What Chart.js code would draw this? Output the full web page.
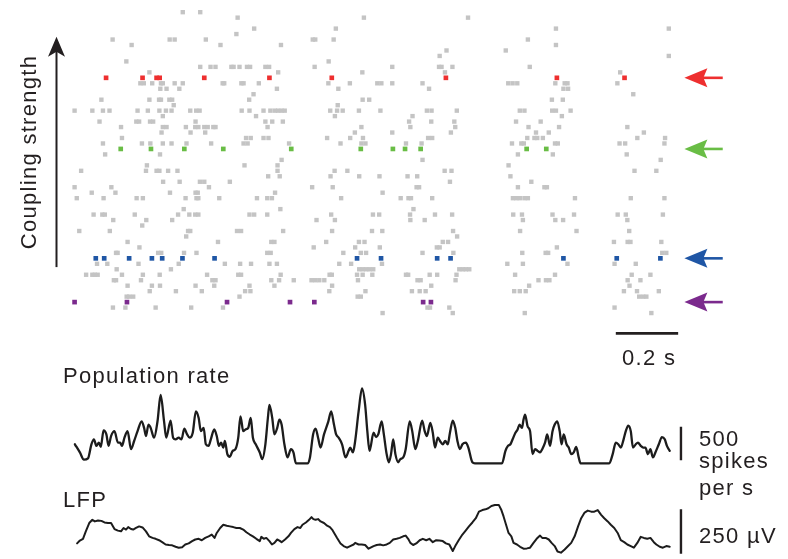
<!DOCTYPE html>
<html>
<head>
<meta charset="utf-8">
<title>Raster, population rate and LFP</title>
<script src="https://cdn.jsdelivr.net/npm/chart.js"></script>
<style>
  html, body { margin: 0; padding: 0; background: #fff; }
  #wrap { width: 788px; height: 559px; }
</style>
</head>
<body>
<div id="wrap"><canvas id="fig" width="788" height="559"></canvas></div>
<script>
// spike times in ms, one list per neuron, top row = strongest coupling
const spikeTimes = [
  [367, 423],
  [543, 948, 1282],
  [],
  [596, 858, 1564, 1926],
  [539],
  [142, 325, 341, 441, 784, 792, 851, 1474],
  [203, 488, 682, 1564],
  [1213, 1403],
  [1191, 1926],
  [186, 835],
  [423, 456, 472, 523, 530, 549, 573, 583, 632, 644, 790, 1039, 1189, 1197, 1232, 1480],
  [260, 673, 943, 1208, 1770],
  [121, 238, 283, 293, 436, 645, 845, 1211, 1567, 1784],
  [231, 242, 269, 297, 303, 341, 367, 495, 500, 555, 562, 611, 834, 903, 991, 1004, 1039, 1136, 1411, 1425, 1440, 1562, 1592, 1601, 1761],
  [295, 315, 356, 669, 866, 1157, 1588, 1603],
  [594, 1812],
  [106, 260, 291, 297, 324, 333, 580, 944, 965, 1551, 1586],
  [338, 864],
  [20, 77, 111, 132, 222, 255, 292, 313, 331, 391, 410, 421, 556, 581, 626, 648, 662, 673, 684, 694, 840, 862, 880, 932, 1001, 1150, 1165, 1246, 1448, 1463, 1552, 1564, 1611],
  [303, 602, 855, 1104, 1583],
  [100, 218, 227, 262, 272, 408, 632, 654, 688, 1093, 1164, 1238, 1436, 1515],
  [169, 303, 315, 377, 407, 417, 436, 447, 465, 472, 639, 940, 1097, 1241, 1476, 1574, 1793],
  [299, 392, 439, 919, 1039, 1227, 1500, 1541, 1846],
  [172, 570, 585, 626, 642, 830, 904, 945, 1154, 1167, 1472, 1495, 1504, 1522, 1825, 1914],
  [111, 236, 263, 303, 331, 379, 458, 562, 575, 708, 873, 940, 953, 1083, 1133, 1423, 1453, 1461, 1561, 1570, 1768, 1786, 1912],
  [168, 265, 372, 497, 715, 938, 1041, 1080, 1130, 1470, 1533],
  [118, 294, 1442, 1554, 1791],
  [684, 1136, 1900],
  [252, 565, 671, 1412],
  [41, 249, 283, 292, 320, 350, 671, 854, 895, 1207, 1229, 1816, 1886],
  [641, 678, 841, 933, 998, 1088, 1119, 1418],
  [304, 357, 422, 436, 518, 1224, 1485],
  [20, 138, 451, 782, 848, 1117, 1125, 1442, 1527, 1535],
  [75, 151, 326, 408, 415, 663, 1008],
  [27, 113, 219, 239, 376, 411, 417, 484, 605, 638, 653, 875, 1066, 1091, 1099, 1167, 1426, 1437, 1448, 1463, 1474, 1625, 1804, 1912],
  [],
  [370, 680, 1107],
  [81, 109, 117, 213, 352, 388, 407, 417, 581, 596, 638, 843, 977, 997, 1096, 1176, 1231, 1427, 1455, 1553, 1622, 1762, 1788, 1907],
  [144, 250, 333, 796, 855, 1097, 1143, 1458, 1562, 1587, 1793],
  [237],
  [35, 133, 384, 391, 541, 554, 689, 846, 974, 1007, 1234, 1449, 1630, 1799],
  [378, 1247],
  [190, 480, 651, 661, 827, 932, 950, 1201, 1218, 1750, 1794, 1803, 1902],
  [228, 787, 920, 999, 1182, 1191, 1567],
  [153, 158, 288, 298, 371, 411, 638, 649, 882, 938, 955, 1136, 1235, 1456, 1531, 1539, 1905, 1918],
  [88, 115, 195, 268, 301, 366, 469, 926, 1003, 1183, 1226, 1588, 1759, 1899],
  [92, 125, 225, 354, 502, 551, 586, 645, 669, 869, 907, 1006, 1408, 1458, 1601, 1752, 1820],
  [155, 329, 933, 944, 955, 966, 978, 1254, 1265, 1275, 1286],
  [57, 77, 85, 94, 172, 239, 293, 445, 545, 554, 681, 838, 845, 926, 944, 975, 1083, 1090, 1159, 1183, 1245, 1433, 1561, 1807, 1867],
  [146, 153, 233, 462, 472, 651, 676, 723, 780, 792, 805, 821, 929, 1120, 1130, 1242, 1508, 1532, 1543, 1794, 1835],
  [190, 268, 294, 408, 468, 581, 661, 846, 1164, 1478, 1800],
  [261, 345, 428, 567, 584, 837, 953, 1102, 1127, 1146, 1430, 1448, 1467, 1782, 1824, 1894],
  [187, 195, 208, 549, 928, 938, 1831, 1844, 1854],
  [20, 188, 509, 711, 789, 1138, 1163],
  [143, 183, 280, 394, 496, 1152, 1160, 1222, 1752],
  [1008, 1233, 1464, 1870]
];

// rows picked out in colour (and marked with arrows)
const highlightRows = [12, 25, 45, 53];
const highlightColors = ['#ee2f2f', '#69bd45', '#1f56a5', '#7b2a8d'];

// population rate (spikes per s)
const rateTimes = [21, 37, 50, 63, 74, 82, 90, 98, 104, 113, 122, 129, 137, 148, 159, 166, 172, 180, 190, 201,
  211, 222, 235, 243, 249, 257, 264, 275, 286, 296, 307, 314, 328, 336, 344, 354, 363, 372, 381, 389,
  399, 409, 418, 425, 434, 441, 450, 457, 468, 476, 483, 490, 497, 502, 510, 518, 527, 536, 545, 552,
  561, 568, 577, 585, 592, 601, 614, 622, 632, 640, 645, 654, 661, 670, 677, 684, 693, 703, 714, 722,
  730, 746, 767, 775, 785, 793, 801, 809, 820, 834, 843, 852, 859, 867, 878, 889, 899, 904, 913, 920,
  931, 942, 952, 959, 966,
  979, 987, 994, 1005, 1012, 1021, 1028, 1035, 1042, 1049, 1058, 1065, 1074, 1082, 1095, 1103, 1113, 1121, 1135, 1143,
  1150, 1161, 1169, 1176, 1185, 1192, 1201, 1209, 1217, 1224, 1233, 1241, 1248, 1256, 1264, 1275, 1283, 1296, 1304, 1391,
  1402, 1410, 1418, 1425, 1434, 1441, 1447, 1455, 1460, 1465, 1473, 1481, 1489, 1497, 1505, 1513, 1520, 1529, 1536, 1545,
  1553, 1560, 1568, 1576, 1582, 1589, 1598, 1605, 1613, 1621, 1629, 1637, 1643, 1735, 1746, 1756, 1764, 1772, 1781, 1788,
  1796, 1804, 1811, 1820, 1827, 1836, 1844, 1851, 1859, 1867, 1875, 1883, 1894, 1904, 1913, 1920, 1929];
const rateValues = [284, 162, 54, 73, 284, 358, 260, 309, 245, 490, 431, 260, 407, 480, 309, 309, 260, 382, 480, 211,
  333, 480, 627, 529, 407, 578, 529, 382, 627, 1019, 627, 382, 637, 382, 358, 382, 358, 519, 431, 382,
  456, 774, 676, 480, 529, 284, 260, 358, 505, 407, 260, 309, 235, 333, 137, 98, 186, 211, 382, 701,
  480, 505, 529, 676, 382, 284, 162, 64, 284, 676, 872, 676, 431, 529, 652, 578, 284, 88, 211, 162,
  0, 0, 0, 88, 431, 519, 382, 235, 431, 627, 774, 578, 431, 382, 284, 88, 186, 235, 162, 333,
  774, 1117, 872, 480, 186,
  456, 392, 431, 627, 431, 137, 15, 137, 358, 137, 15, 64, 88, 211, 627, 480, 211, 333, 637, 480,
  407, 603, 456, 235, 382, 333, 284, 333, 284, 456, 637, 529, 333, 211, 284, 309, 235, 15, 0, 0,
  186, 260, 284, 358, 456, 505, 578, 529, 652, 725, 553, 480, 137, 211, 186, 162, 211, 309, 431, 260,
  480, 578, 627, 480, 284, 431, 284, 235, 137, 162, 245, 88, 0, 0, 137, 309, 284, 235, 358, 480,
  563, 480, 235, 284, 309, 260, 235, 235, 137, 211, 88, 162, 284, 392, 358, 260, 186];

// local field potential (µV)
const lfpTimes = [28, 37, 47, 56, 67, 77, 85, 95, 106, 116, 127, 137, 148, 159, 169, 177, 185, 192, 201, 208,
  217, 227, 238, 249, 259, 270, 280, 291, 301, 312, 323, 333, 344, 354, 365, 375, 386, 397, 407, 418,
  428, 439, 450, 460, 469, 476, 487, 497, 508, 518, 529, 539, 550, 561, 571, 582, 592, 603, 614, 619,
  627, 635, 645, 653, 661, 670, 677, 684, 695, 706, 714, 725, 735, 744, 751, 762, 772, 780, 786, 793,
  801, 809, 820, 830, 839, 846, 854, 862, 873, 883, 894, 904, 915, 920, 931, 941, 952, 963,
  979, 989, 1000, 1010, 1021, 1031, 1042, 1053, 1063, 1074, 1082, 1090, 1097, 1106, 1116, 1127, 1137, 1148, 1158, 1169,
  1180, 1190, 1201, 1211, 1222, 1233, 1241, 1252, 1264, 1275, 1285, 1296, 1307, 1317, 1328, 1338, 1347, 1357, 1368, 1381,
  1389, 1396, 1404, 1412, 1421, 1428, 1439, 1449, 1460, 1471, 1481, 1492, 1502, 1513, 1520, 1531, 1541, 1550, 1560, 1569,
  1580, 1592, 1603, 1613, 1624, 1635, 1645, 1656, 1666, 1677, 1687, 1698, 1709, 1719, 1730, 1740, 1751, 1762, 1772, 1783,
  1793, 1804, 1814, 1825, 1836, 1846, 1857, 1867, 1878, 1886, 1897, 1907, 1918, 1929];
const lfpValues = [-68, -52, -42, 0, 47, 65, 56, 61, 59, 50, 47, 47, 13, 4, 0, 19, 10, 24, 13, 10,
  19, 28, 22, 0, -28, -37, -42, -50, -61, -74, -77, -79, -87, -92, -89, -74, -68, -55, -46, -42,
  -50, -37, -28, -18, -37, -9, 19, 37, 32, 28, 24, 19, 19, 10, -5, -18, -28, -42, -55, -31,
  -42, -37, -55, -74, -65, -46, -52, -61, -46, -28, -9, 13, 24, 19, 37, 50, 65, 80, 69, 65,
  69, 56, 47, 32, 24, 10, -13, -37, -68, -83, -92, -83, -74, -65, -74, -74, -77, -98,
  -83, -77, -74, -79, -74, -65, -46, -42, -37, -28, -24, -42, -65, -77, -68, -50, -42, -50, -42, -61,
  -50, -52, -55, -68, -74, -111, -83, -50, -18, 6, 28, 50, 74, 111, 120, 124, 130, 143, 148, 148,
  120, 84, 37, -9, -28, -65, -74, -87, -98, -96, -92, -65, -42, -24, -37, -37, -46, -65, -83, -114,
  -120, -102, -83, -65, -28, 28, 74, 106, 117, 111, 111, 120, 93, 74, 56, 37, 19, -9, -50, -61,
  -74, -83, -92, -65, -31, -37, -42, -37, -61, -74, -87, -92, -83, -87];

// build the datasets
const greyPts = [];
spikeTimes.forEach((row, i) => {
  if (!highlightRows.includes(i)) row.forEach(t => greyPts.push({ x: t, y: i }));
});

const datasets = [{
  data: greyPts, backgroundColor: '#c4c4c4',
  pointStyle: 'rect', pointRadius: 3.1, pointBorderWidth: 0, yAxisID: 'yR'
}];
highlightRows.forEach((r, k) => {
  datasets.push({
    data: spikeTimes[r].map(t => ({ x: t, y: r })),
    backgroundColor: highlightColors[k],
    pointStyle: 'rect', pointRadius: 3.3, pointBorderWidth: 0, yAxisID: 'yR'
  });
});
datasets.push({
  data: rateTimes.map((t, i) => ({ x: t, y: rateValues[i] })),
  yAxisID: 'yP', showLine: true, pointRadius: 0,
  borderColor: '#1c1c1c', borderWidth: 2.3, cubicInterpolationMode: 'monotone',
  borderJoinStyle: 'round', borderCapStyle: 'round'
});
datasets.push({
  data: lfpTimes.map((t, i) => ({ x: t, y: lfpValues[i] })),
  yAxisID: 'yL', showLine: true, pointRadius: 0,
  borderColor: '#1c1c1c', borderWidth: 2, tension: 0,
  borderJoinStyle: 'round', borderCapStyle: 'round'
});

const INK = '#231f20';

// arrows, scale bars and text
const decorations = {
  id: 'decorations',
  afterDatasetsDraw(chart) {
    const { ctx, scales } = chart;
    const { x, yR, yP, yL } = scales;
    ctx.save();
    ctx.strokeStyle = INK;
    ctx.fillStyle = INK;
    ctx.lineCap = 'butt';

    // coupling strength axis arrow
    const ax = x.getPixelForValue(-38);
    const aTop = yR.getPixelForValue(4.5);
    const aBot = yR.getPixelForValue(46.6);
    ctx.lineWidth = 2;
    ctx.beginPath();
    ctx.moveTo(ax, aBot);
    ctx.lineTo(ax, aTop + 14);
    ctx.stroke();
    ctx.beginPath();
    ctx.moveTo(ax, aTop);
    ctx.lineTo(ax - 8.5, aTop + 20);
    ctx.lineTo(ax, aTop + 15);
    ctx.lineTo(ax + 8.5, aTop + 20);
    ctx.closePath();
    ctx.fill();

    // coloured arrows pointing at highlighted rows
    const tip = x.getPixelForValue(1976);
    const tail = x.getPixelForValue(2099);
    highlightRows.forEach((r, k) => {
      const py = yR.getPixelForValue(r);
      ctx.fillStyle = highlightColors[k];
      ctx.strokeStyle = highlightColors[k];
      ctx.lineWidth = 2.6;
      ctx.beginPath();
      ctx.moveTo(tip + 16, py);
      ctx.lineTo(tail, py);
      ctx.stroke();
      ctx.beginPath();
      ctx.moveTo(tip, py);
      ctx.lineTo(tip + 23, py - 9.5);
      ctx.lineTo(tip + 19, py);
      ctx.lineTo(tip + 23, py + 9.5);
      ctx.closePath();
      ctx.fill();
    });

    ctx.strokeStyle = INK;
    ctx.fillStyle = INK;

    // 0.2 s time bar
    const barY = yR.getPixelForValue(58.7);
    const b0 = x.getPixelForValue(1756), b1 = x.getPixelForValue(1956);
    ctx.lineWidth = 2.7;
    ctx.beginPath();
    ctx.moveTo(b0, barY);
    ctx.lineTo(b1, barY);
    ctx.stroke();

    // vertical scale bars
    const sx = x.getPixelForValue(1965);
    ctx.lineWidth = 2.4;
    ctx.beginPath();
    ctx.moveTo(sx, yP.getPixelForValue(45));
    ctx.lineTo(sx, yP.getPixelForValue(545));
    ctx.moveTo(sx, yL.getPixelForValue(-126));
    ctx.lineTo(sx, yL.getPixelForValue(124));
    ctx.stroke();

    // text
    ctx.font = "22px 'Liberation Sans', Arial, sans-serif";
    ctx.letterSpacing = '1.3px';
    ctx.textBaseline = 'alphabetic';
    ctx.textAlign = 'left';
    ctx.fillText('0.2 s', 622, 365);
    ctx.fillText('Population rate', 63, 383);
    ctx.fillText('LFP', 63, 507);
    ctx.fillText('500', 699, 446);
    ctx.fillText('spikes', 699, 468);
    ctx.fillText('per s', 699, 495);
    ctx.fillText('250 µV', 699, 543);

    ctx.translate(36, 152);
    ctx.rotate(-Math.PI / 2);
    ctx.textAlign = 'center';
    ctx.fillText('Coupling strength', 0, 0);
    ctx.restore();
  }
};

new Chart(document.getElementById('fig'), {
  type: 'scatter',
  data: { datasets },
  options: {
    responsive: false,
    animation: false,
    devicePixelRatio: 1,
    events: [],
    layout: { padding: 0 },
    plugins: { legend: { display: false }, tooltip: { enabled: false } },
    scales: {
      x: { type: 'linear', axis: 'x', min: -206.4, max: 2295.5, display: false },
      yR: { type: 'linear', axis: 'y', reverse: true, min: -1.496, max: 99.23, display: false },
      yP: { type: 'linear', axis: 'y', min: -1368, max: 6853, display: false },
      yL: { type: 'linear', axis: 'y', min: -133.3, max: 2972, display: false }
    }
  },
  plugins: [decorations]
});
</script>
</body>
</html>
